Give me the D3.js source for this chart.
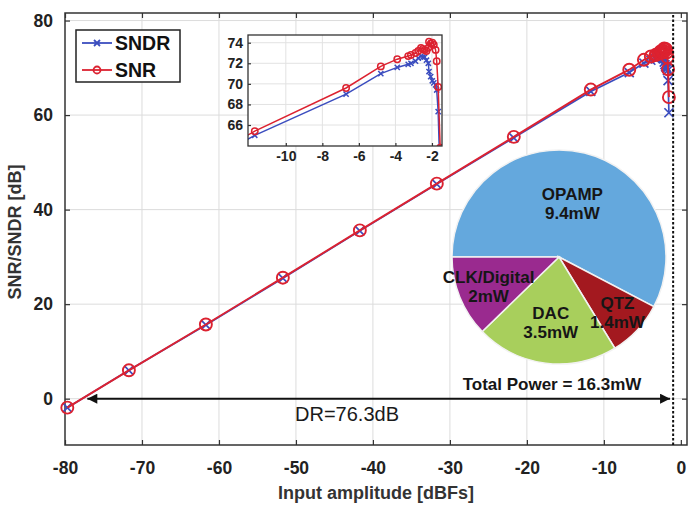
<!DOCTYPE html>
<meta charset="utf-8">
<head>
  <title>SNR / SNDR vs input amplitude</title>
</head>
<style>
body {
  margin: 0;
  background: #fff;
  font-family: "Liberation Sans", Arial, Helvetica, sans-serif;
}
.tick text { font-weight: bold; fill: #222; }
</style>
<body>
<svg width="688" height="507"></svg>
<script src="https://cdnjs.cloudflare.com/ajax/libs/d3/7.8.5/d3.min.js"></script>
<script>
// measured points (input level in dBFS)
var inputLevel = [-79.7, -71.7, -61.7, -51.7, -41.7, -31.7, -21.7, -11.7, -6.7, -4.8,
  -3.9, -3.3, -3.15, -2.9, -2.75, -2.6, -2.5, -2.4, -2.3, -2.2,
  -2.16, -2.07, -1.98, -1.9, -1.8, -1.74, -1.66, -1.55];
var snr = [-1.9, 6.0, 15.7, 25.6, 35.6, 45.5, 55.4, 65.4, 69.6, 71.7,
  72.4, 72.7, 72.8, 73.0, 73.2, 73.5, 73.4, 73.3, 73.2, 73.5,
  74.1, 73.9, 74.0, 73.8, 73.3, 72.2, 69.7, 63.8];
var sndr = [-1.9, 6.0, 15.6, 25.5, 35.5, 45.4, 55.2, 65.0, 69.0, 71.0,
  71.6, 71.9, 72.0, 72.2, 72.5, 72.7, 72.6, 72.6, 72.3, 72.0,
  71.2, 70.7, 70.3, 70.1, 69.9, 69.4, 67.3, 60.5];

var xTicks = [-80, -70, -60, -50, -40, -30, -20, -10, 0];
var yTicks = [0, 20, 40, 60, 80];
var insetXTicks = [-10, -8, -6, -4, -2];
var insetYTicks = [66, 68, 70, 72, 74];

// power breakdown
var powerLabels = ['OPAMP', 'QTZ', 'DAC', 'CLK/Digital'];
var powerValues = [9.4, 1.4, 3.5, 2];
var totalPower = 16.3;

var dynamicRange = 76.3;
var drStart = -77.1;
var drEnd = -1.4;
var fullScaleLine = -1.0;

var blue = '#3b4dbf', red = '#dc2230';
var plain = d => String(d);   // hyphen minus like the original

var svg = d3.select('svg');

// main axes frame
var x = d3.scaleLinear().domain([-80, 0.8]).range([65, 687]);
var y = d3.scaleLinear().domain([-9.8, 81.6]).range([445, 13]);

var main = svg.append('g');

main.append('rect')
  .attr('x', x.range()[0]).attr('y', y.range()[1])
  .attr('width', x.range()[1] - x.range()[0])
  .attr('height', y.range()[0] - y.range()[1])
  .attr('fill', '#fff');

// grid
main.append('g').selectAll('line')
  .data(xTicks.slice(1, -1))
  .join('line')
  .attr('x1', d => x(d)).attr('x2', d => x(d))
  .attr('y1', y.range()[0]).attr('y2', y.range()[1])
  .attr('stroke', '#dcdcdc').attr('stroke-width', 1);
main.append('g').selectAll('line')
  .data(yTicks)
  .join('line')
  .attr('y1', d => y(d)).attr('y2', d => y(d))
  .attr('x1', x.range()[0]).attr('x2', x.range()[1])
  .attr('stroke', '#dcdcdc').attr('stroke-width', 1);

// axes with inward ticks
function styleAxis(g) {
  g.select('.domain').remove();
  g.selectAll('.tick line').attr('stroke', '#333').attr('stroke-width', 1.2);
}
main.append('g')
  .attr('transform', 'translate(0,' + y.range()[0] + ')')
  .call(d3.axisBottom(x).tickValues(xTicks).tickSize(-5).tickPadding(17).tickFormat(plain))
  .call(styleAxis)
  .selectAll('text').attr('font-size', 17.5).attr('font-family', '"Liberation Sans", Arial, sans-serif');
main.append('g')
  .attr('transform', 'translate(0,' + y.range()[1] + ')')
  .call(d3.axisTop(x).tickValues(xTicks).tickSize(-5).tickFormat(''))
  .call(styleAxis);
main.append('g')
  .attr('transform', 'translate(' + x.range()[0] + ',0)')
  .call(d3.axisLeft(y).tickValues(yTicks).tickSize(-5).tickPadding(12).tickFormat(plain))
  .call(styleAxis)
  .selectAll('text').attr('font-size', 17.5).attr('font-family', '"Liberation Sans", Arial, sans-serif');
main.append('g')
  .attr('transform', 'translate(' + x.range()[1] + ',0)')
  .call(d3.axisRight(y).tickValues(yTicks).tickSize(-5).tickFormat(''))
  .call(styleAxis);

main.append('rect')
  .attr('x', x.range()[0]).attr('y', y.range()[1])
  .attr('width', x.range()[1] - x.range()[0])
  .attr('height', y.range()[0] - y.range()[1])
  .attr('fill', 'none').attr('stroke', '#333').attr('stroke-width', 1.5);

// axis titles
svg.append('text')
  .attr('x', (x.range()[0] + x.range()[1]) / 2).attr('y', 499)
  .attr('text-anchor', 'middle')
  .attr('font-size', 18).attr('font-weight', 'bold').attr('fill', '#333')
  .text('Input amplitude [dBFs]');
svg.append('text')
  .attr('transform', 'translate(21,' + 232 + ') rotate(-90)')
  .attr('text-anchor', 'middle')
  .attr('font-size', 18).attr('font-weight', 'bold').attr('fill', '#333')
  .text('SNR/SNDR [dB]');

// series drawing helpers
function crossPath(s) {
  return 'M' + (-s) + ',' + (-s) + 'L' + s + ',' + s + 'M' + (-s) + ',' + s + 'L' + s + ',' + (-s);
}

function drawSeries(g, xs, ys, values, color, marker, lw, size) {
  var pts = inputLevel.map((d, i) => [d, values[i]]);
  g.append('path')
    .datum(pts)
    .attr('fill', 'none').attr('stroke', color).attr('stroke-width', lw)
    .attr('d', d3.line().x(d => xs(d[0])).y(d => ys(d[1])));
  if (marker === 'x') {
    g.append('g').selectAll('path')
      .data(pts).join('path')
      .attr('transform', d => 'translate(' + xs(d[0]) + ',' + ys(d[1]) + ')')
      .attr('d', crossPath(size))
      .attr('stroke', color).attr('stroke-width', lw).attr('fill', 'none');
  } else {
    g.append('g').selectAll('circle')
      .data(pts).join('circle')
      .attr('cx', d => xs(d[0])).attr('cy', d => ys(d[1]))
      .attr('r', size)
      .attr('stroke', color).attr('stroke-width', lw).attr('fill', 'none');
  }
}

drawSeries(main, x, y, sndr, blue, 'x', 1.7, 4.5);
drawSeries(main, x, y, snr, red, 'o', 1.9, 6);

// full-scale dotted line
main.append('line')
  .attr('x1', x(fullScaleLine)).attr('x2', x(fullScaleLine))
  .attr('y1', y.range()[0]).attr('y2', y.range()[1])
  .attr('stroke', '#111').attr('stroke-width', 2).attr('stroke-dasharray', '2.5,2');

// DR arrow
var defs = svg.append('defs');
defs.append('marker')
  .attr('id', 'arrow').attr('viewBox', '0 0 10 10')
  .attr('refX', 10).attr('refY', 5)
  .attr('markerWidth', 7).attr('markerHeight', 5).attr('markerUnits', 'strokeWidth')
  .attr('orient', 'auto-start-reverse')
  .append('path').attr('d', 'M0,0L10,5L0,10Z').attr('fill', '#111');

main.append('line')
  .attr('x1', x(drStart)).attr('x2', x(drEnd))
  .attr('y1', y(0)).attr('y2', y(0))
  .attr('stroke', '#111').attr('stroke-width', 2)
  .attr('marker-start', 'url(#arrow)').attr('marker-end', 'url(#arrow)');
main.append('text')
  .attr('x', 347).attr('y', y(0) + 22)
  .attr('text-anchor', 'middle')
  .attr('font-size', 20).attr('fill', '#1a1a1a')
  .text('DR=' + dynamicRange + 'dB');

// legend
var legend = svg.append('g');
legend.append('rect')
  .attr('x', 76).attr('y', 30).attr('width', 104).attr('height', 52)
  .attr('fill', '#fff').attr('stroke', '#222').attr('stroke-width', 1.5);
[{name: 'SNDR', color: blue, marker: 'x'}, {name: 'SNR', color: red, marker: 'o'}].forEach(function(s, i) {
  var ly = 43 + i * 27;
  legend.append('line')
    .attr('x1', 82).attr('x2', 112).attr('y1', ly).attr('y2', ly)
    .attr('stroke', s.color).attr('stroke-width', 1.8);
  if (s.marker === 'x') {
    legend.append('path')
      .attr('transform', 'translate(97,' + ly + ')')
      .attr('d', crossPath(3)).attr('stroke', s.color).attr('stroke-width', 1.8);
  } else {
    legend.append('circle')
      .attr('cx', 97).attr('cy', ly).attr('r', 3.5)
      .attr('fill', 'none').attr('stroke', s.color).attr('stroke-width', 1.8);
  }
  legend.append('text')
    .attr('x', 115).attr('y', ly + 7)
    .attr('font-size', 19.5).attr('font-weight', 'bold').attr('fill', '#111')
    .text(s.name);
});

// inset
var ix = d3.scaleLinear().domain([-12.07, -1.45]).range([248, 442]);
var iy = d3.scaleLinear().domain([63.96, 74.75]).range([146, 35]);
var inset = svg.append('g');

inset.append('rect')
  .attr('x', ix.range()[0]).attr('y', iy.range()[1])
  .attr('width', ix.range()[1] - ix.range()[0])
  .attr('height', iy.range()[0] - iy.range()[1])
  .attr('fill', '#fff');
inset.append('g').selectAll('line')
  .data(insetXTicks).join('line')
  .attr('x1', d => ix(d)).attr('x2', d => ix(d))
  .attr('y1', iy.range()[0]).attr('y2', iy.range()[1])
  .attr('stroke', '#e2e2e2');
inset.append('g').selectAll('line')
  .data(insetYTicks).join('line')
  .attr('y1', d => iy(d)).attr('y2', d => iy(d))
  .attr('x1', ix.range()[0]).attr('x2', ix.range()[1])
  .attr('stroke', '#e2e2e2');

defs.append('clipPath').attr('id', 'insetClip')
  .append('rect')
  .attr('x', ix.range()[0]).attr('y', iy.range()[1])
  .attr('width', ix.range()[1] - ix.range()[0])
  .attr('height', iy.range()[0] - iy.range()[1]);

var insetData = inset.append('g').attr('clip-path', 'url(#insetClip)');
drawSeries(insetData, ix, iy, sndr, blue, 'x', 1.5, 2.6);
drawSeries(insetData, ix, iy, snr, red, 'o', 1.5, 3.2);

inset.append('g')
  .attr('transform', 'translate(0,' + iy.range()[0] + ')')
  .call(d3.axisBottom(ix).tickValues(insetXTicks).tickSize(-3).tickPadding(5).tickFormat(plain))
  .call(styleAxis)
  .selectAll('text').attr('font-size', 14).attr('font-family', '"Liberation Sans", Arial, sans-serif');
inset.append('g')
  .attr('transform', 'translate(' + ix.range()[0] + ',0)')
  .call(d3.axisLeft(iy).tickValues(insetYTicks).tickSize(-3).tickPadding(5).tickFormat(plain))
  .call(styleAxis)
  .selectAll('text').attr('font-size', 14).attr('font-family', '"Liberation Sans", Arial, sans-serif');
inset.append('rect')
  .attr('x', ix.range()[0]).attr('y', iy.range()[1])
  .attr('width', ix.range()[1] - ix.range()[0])
  .attr('height', iy.range()[0] - iy.range()[1])
  .attr('fill', 'none').attr('stroke', '#333').attr('stroke-width', 1.3);

// power pie
var pieColors = d3.scaleOrdinal()
  .domain(powerLabels)
  .range(['#64a8dd', '#a3191f', '#a8cf5c', '#9a2a8f']);
var labelRadius = {'OPAMP': 56, 'QTZ': 80, 'DAC': 66, 'CLK/Digital': 76};
var pieR = 107;
var pieCenter = [559, 257];

var pie = d3.pie().sort(null)
  .startAngle(-Math.PI / 2).endAngle(3 * Math.PI / 2)
  .value(d => d.value);
var slices = pie(powerLabels.map((l, i) => ({label: l, value: powerValues[i]})));
var arc = d3.arc().innerRadius(0).outerRadius(pieR);

var pg = svg.append('g').attr('transform', 'translate(' + pieCenter[0] + ',' + pieCenter[1] + ')');
pg.selectAll('path')
  .data(slices).join('path')
  .attr('d', arc)
  .attr('fill', d => pieColors(d.data.label))
  .attr('stroke', '#f2f2f2').attr('stroke-width', 1.5);

var labels = pg.selectAll('g.lbl')
  .data(slices).join('g')
  .attr('class', 'lbl')
  .attr('transform', function(d) {
    var r = labelRadius[d.data.label];
    var c = d3.arc().innerRadius(r).outerRadius(r).centroid(d);
    return 'translate(' + c[0] + ',' + c[1] + ')';
  });
labels.append('text')
  .attr('text-anchor', 'middle').attr('y', -3)
  .attr('font-size', 17).attr('font-weight', 'bold').attr('fill', '#161616')
  .text(d => d.data.label);
labels.append('text')
  .attr('text-anchor', 'middle').attr('y', 16)
  .attr('font-size', 17).attr('font-weight', 'bold').attr('fill', '#161616')
  .text(d => d.data.value + 'mW');

pg.append('text')
  .attr('x', -7).attr('y', pieR + 26)
  .attr('text-anchor', 'middle')
  .attr('font-size', 17).attr('font-weight', 'bold').attr('fill', '#161616')
  .text('Total Power = ' + totalPower + 'mW');
</script>
</body>
